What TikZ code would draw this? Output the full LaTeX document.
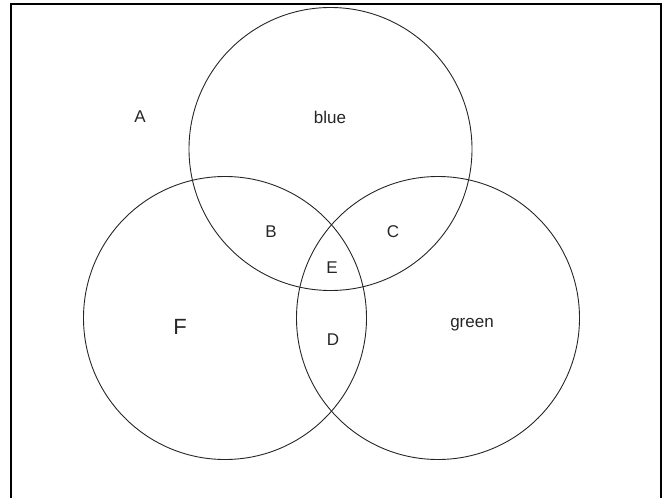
\documentclass[tikz,border=0pt]{standalone}
\usepackage{fontspec}
\setmainfont{Liberation Sans}
\begin{document}
\begin{tikzpicture}[x=1pt,y=-1pt,
  setcircle/.style={circle, draw=black!85, line width=0.9pt, minimum size=283pt, inner sep=0pt},
  lbl/.style={font=\fontsize{17}{17}\selectfont, text=black!85, inner sep=0pt},
  biglbl/.style={font=\fontsize{22}{22}\selectfont, text=black!85, inner sep=0pt}]
\useasboundingbox (0,0) rectangle (667,498);
\draw[line width=2pt] (11,500) -- (11,4) -- (660.5,4) -- (660.5,500);
\node[setcircle] (blue) at (330.5,149) {};
\node[setcircle] (left) at (225,318) {};
\node[setcircle] (green) at (438,318) {};
\node[lbl] (A) at (140,117) {A};
\node[lbl] (bl) at (330,117) {blue};
\node[lbl] (B) at (271,232) {B};
\node[lbl] (C) at (393,232) {C};
\node[lbl] (E) at (332,268) {E};
\node[lbl] (D) at (333,340) {D};
\node[biglbl] (F) at (180,327) {F};
\node[lbl] (gr) at (472,325) {green};
\end{tikzpicture}
\end{document}
